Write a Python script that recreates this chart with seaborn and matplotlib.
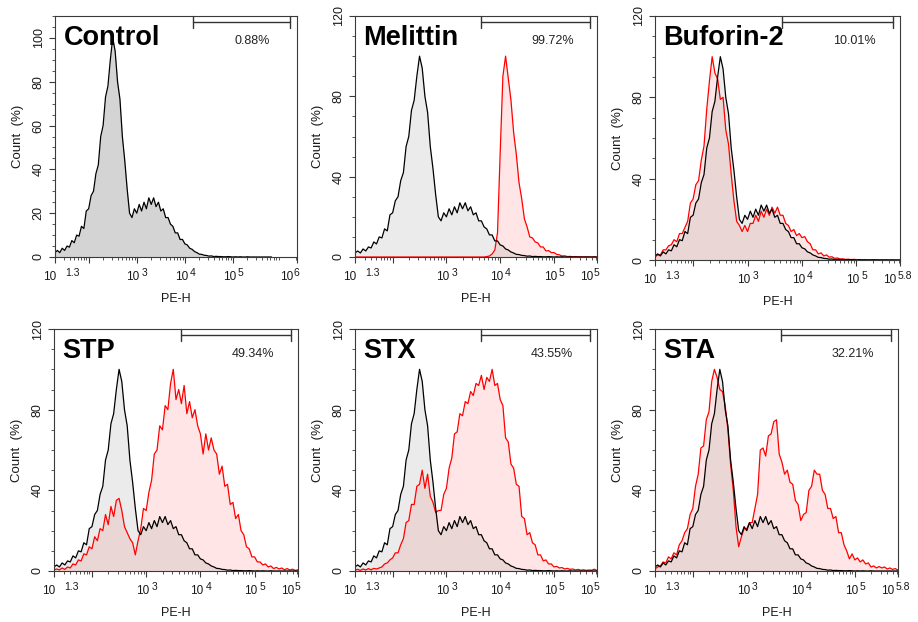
import numpy as np
import matplotlib
matplotlib.use("Agg")
import matplotlib.pyplot as plt
import seaborn as sns
from matplotlib.ticker import FixedLocator, MultipleLocator, LogLocator, NullFormatter

sns.set_style("ticks")
plt.rcParams["font.family"] = ["Liberation Sans", "DejaVu Sans"]

# histogram bin centres, log10(PE-H)
log_pe = np.round(np.arange(1.30, 5.801, 0.05), 2)

# untreated cells (normalised count, %), shown in black on every panel
control = [
    2, 3, 2, 4, 3, 5, 4.5, 7.5, 6.5, 10,
    9.5, 14, 13, 21, 22, 28, 30, 38, 42, 55,
    60, 73, 78, 90, 100, 94, 80, 72, 55, 44,
    31, 20, 18, 22, 20, 24, 21, 25, 22, 27,
    24, 27, 23, 25, 21, 22, 18, 18, 15, 14,
    11, 11, 8, 8, 6, 5.5, 4, 3.5, 2.5, 2,
    1.3, 1.2, 0.8, 0.7, 0.4, 0.5, 0.2, 0.3, 0.2, 0.2,
    0.1, 0.1, 0.2, 0.1, 0, 0.1, 0, 0.1, 0, 0,
    0.1, 0, 0, 0, 0, 0, 0, 0, 0, 0, 0,
]

melittin = [0] * 49 + [
    0.2, 0.5, 1.5, 3.5, 12, 52, 90, 100, 89, 78,
    62, 51, 37, 29, 19, 15, 10, 9.5, 7.5, 7,
    5, 5, 3, 3.2, 2.2, 2.2, 1.3, 1.1, 0.5, 0.6,
    0.2, 0.3, 0.1, 0.2, 0.1,
    0.1, 0, 0.1, 0, 0, 0.1, 0,
]

buforin2 = [
    1.5, 2.5, 2.5, 5, 5, 7, 7.5, 10, 9, 13,
    13, 16, 19, 28, 30, 37, 39, 49, 56, 74,
    88, 100, 92, 89, 79, 80, 64, 57, 42, 29,
    19, 17, 14, 17, 14, 18, 18, 22, 19, 24,
    21, 25, 22, 26, 23, 26, 22, 22, 18, 17,
    14, 15, 12, 13, 11, 11.5, 9, 8, 5, 5,
    3, 3.5, 2, 2.5, 1.4, 1.6, 0.8, 1, 0.5, 0.6,
    0.3, 0.4, 0.2, 0.3, 0.2, 0.1, 0.2, 0.1, 0.1, 0.1,
    0.1, 0.2, 0.1, 0.1, 0.1, 0.1, 0, 0.1, 0, 0, 0,
]

stp = [
    0.5, 1, 0.5, 1.5, 0.8, 2, 1.5, 3.5, 3, 5.5,
    5, 8.5, 8, 12, 11, 17, 15, 21, 20, 28,
    23, 32, 27, 35, 36, 30, 22, 19, 16, 14,
    8, 15, 21, 31, 30, 39, 45, 58, 60, 72,
    70, 82, 80, 93, 100, 85, 90, 83, 92, 78,
    84, 76, 80, 72, 68, 58, 68, 60, 66, 60,
    58, 48, 52, 42, 43, 33, 34, 26, 28, 20,
    18, 12, 11, 7, 7, 4.5, 4.5, 3, 3.5, 2,
    2.5, 1.2, 1.8, 1, 1.5, 0.6, 1.2, 0.5, 0.9, 0.3, 0.6,
]

stx = [
    0.5, 0.8, 0.3, 1, 0.5, 1.2, 0.6, 1.3, 1, 1.5,
    2, 3.5, 4, 5.5, 6.5, 9, 9, 13, 16, 24,
    25, 33, 33, 42, 43, 50, 41, 48, 37, 34,
    29, 30, 30, 38, 41, 51, 56, 68, 69, 78,
    77, 84, 83, 89, 87, 93, 92, 97, 90, 96,
    94, 100, 92, 93, 85, 82, 66, 64, 53, 51,
    43, 42, 27, 26, 18, 19, 14, 13, 8, 8,
    5, 5.5, 3.5, 3.5, 2, 2.3, 1.5, 1.7, 1, 1.3,
    0.8, 1, 0.5, 0.8, 0.4, 0.6, 0.3, 0.5, 0.4, 0.9, 0.3,
]

sta = [
    1, 2, 2.5, 4.5, 4, 7, 6, 9, 8, 13,
    15, 19, 21, 28, 31, 42, 48, 61, 62, 75,
    79, 94, 100, 96, 90, 89, 82, 70, 53, 40,
    22, 12, 17, 21, 21, 24, 24, 31, 38, 60,
    61, 57, 67, 68, 74, 75, 58, 54, 48, 50,
    44, 43, 35, 33, 25, 28, 29, 40, 42, 50,
    48, 48, 40, 38, 31, 31, 26, 27, 19, 19,
    13, 10, 6, 8.5, 5.5, 6.5, 4.5, 5.5, 3.5, 4,
    2, 2.5, 1.5, 2.2, 1.5, 2, 1, 1.5, 0.8, 1.2, 0.4,
]

panel_names = ["Control", "Melittin", "Buforin-2", "STP", "STX", "STA"]
treated = [None, melittin, buforin2, stp, stx, sta]
gate_percent = ["0.88%", "99.72%", "10.01%", "49.34%", "43.55%", "32.21%"]
gate_start = [4.17, 3.64, 3.64, 3.64, 3.64, 3.64]
gate_end = [6.18, 5.67, 5.67, 5.67, 5.67, 5.67]
x_max = [6.33, 5.8, 5.8, 5.8, 5.8, 5.8]
x_end_label = ["6", "5", "5.8", "5", "5", "5.8"]
y_max = [110, 120, 120, 120, 120, 120]

# axes boxes in pixels: left, top, right, bottom
boxes = [
    (55, 16, 297, 257), (355, 16, 597, 257), (655, 16, 900, 260),
    (54, 329, 298, 571), (355, 329, 597, 571), (655, 329, 898, 571),
]

W, H = 918, 622
PX = 72 / 100  # points per pixel at 100 dpi
fig = plt.figure(figsize=(W / 100, H / 100), dpi=100)
x_lin = 10 ** log_pe
spine_col = "#3a3a3a"
text_col = "#1a1a1a"


def power_label(ax, xval, exponent, base_right, exp_left):
    """Write 10^exponent under the x axis; offsets are in pixels from xval."""
    ax.annotate("10", xy=(xval, 0), xycoords=("data", "axes fraction"),
                xytext=(base_right * PX, -23 * PX), textcoords="offset points",
                ha="right", va="baseline", fontsize=8.5, color=text_col,
                annotation_clip=False)
    ax.annotate(exponent, xy=(xval, 0), xycoords=("data", "axes fraction"),
                xytext=(exp_left * PX, -19 * PX), textcoords="offset points",
                ha="left", va="baseline", fontsize=7.5, color=text_col,
                annotation_clip=False)


for i, name in enumerate(panel_names):
    l, t, r, b = boxes[i]
    ax = fig.add_axes([l / W, 1 - b / H, (r - l) / W, (b - t) / H])
    ax.set_xscale("log")

    if treated[i] is None:
        ax.fill_between(x_lin, control, color="#d4d4d4", lw=0)
        sns.lineplot(x=x_lin, y=control, ax=ax, color="black", lw=0.9)
    else:
        ax.fill_between(x_lin, treated[i], color="#ff0000", alpha=0.10, lw=0)
        ax.fill_between(x_lin, control, color="#8c8c8c", alpha=0.17, lw=0)
        sns.lineplot(x=x_lin, y=treated[i], ax=ax, color="#ff0000", lw=0.9)
        sns.lineplot(x=x_lin, y=control, ax=ax, color="black", lw=0.9)

    ax.set_xlim(10 ** 1.3, 10 ** x_max[i])
    ax.set_ylim(0, y_max[i])

    ticks = [10 ** 1.3, 1e2, 1e3, 1e4, 1e5, 10 ** x_max[i]]
    ax.xaxis.set_major_locator(FixedLocator(ticks))
    ax.xaxis.set_major_formatter(NullFormatter())
    ax.xaxis.set_minor_locator(LogLocator(base=10, subs=np.arange(2, 10)))
    ax.xaxis.set_minor_formatter(NullFormatter())

    power_label(ax, 10 ** 1.3, "1.3", 1, 10)
    for k in (3, 4, 5):
        power_label(ax, 10.0 ** k, str(k), 3, 5)
    end_exp_left = -2 if x_end_label[i] == "5.8" else -3
    power_label(ax, 10 ** x_max[i], x_end_label[i], -4, end_exp_left)

    if y_max[i] == 110:
        ax.yaxis.set_major_locator(MultipleLocator(20))
        ax.yaxis.set_minor_locator(MultipleLocator(5))
    else:
        ax.yaxis.set_major_locator(MultipleLocator(40))
        ax.yaxis.set_minor_locator(MultipleLocator(10))

    ax.tick_params(which="major", direction="out", length=4, width=0.8,
                   color=spine_col, labelsize=9, labelcolor=text_col)
    ax.tick_params(which="minor", direction="out", length=2, width=0.6,
                   color=spine_col)
    ax.tick_params(axis="y", labelrotation=90, pad=3.5)
    for lab in ax.get_yticklabels():
        lab.set_verticalalignment("center")

    for sp in ax.spines.values():
        sp.set_color(spine_col)
        sp.set_linewidth(0.8)

    ax.set_xlabel("")
    ax.set_ylabel("")
    ax.annotate("PE-H", xy=(0.5, 0), xycoords="axes fraction",
                xytext=(0, -45 * PX), textcoords="offset points",
                ha="center", va="baseline", fontsize=9, color=text_col)
    ax.annotate("Count  (%)", xy=(0, 0.5), xycoords="axes fraction",
                xytext=(-34 * PX, 0), textcoords="offset points",
                rotation=90, rotation_mode="anchor", ha="center", va="baseline",
                fontsize=9.5, color=text_col)

    ax.text(0.035, 0.88, name, transform=ax.transAxes, fontsize=19.5,
            fontweight="bold", va="baseline", ha="left", color="black")

    # gate marker with the share of cells inside it
    gtr = ax.get_xaxis_transform()
    g0, g1 = 10 ** gate_start[i], 10 ** gate_end[i]
    ax.plot([g0, g1], [0.976, 0.976], transform=gtr, color="#333333", lw=1.0,
            clip_on=False)
    for gx in (g0, g1):
        ax.plot([gx, gx], [0.952, 1.0], transform=gtr, color="#333333", lw=1.0,
                clip_on=False)
    ax.text(0.815, 0.885, gate_percent[i], transform=ax.transAxes, fontsize=9,
            ha="center", va="baseline", color="#222222")

fig.savefig("out.png", dpi=100)
